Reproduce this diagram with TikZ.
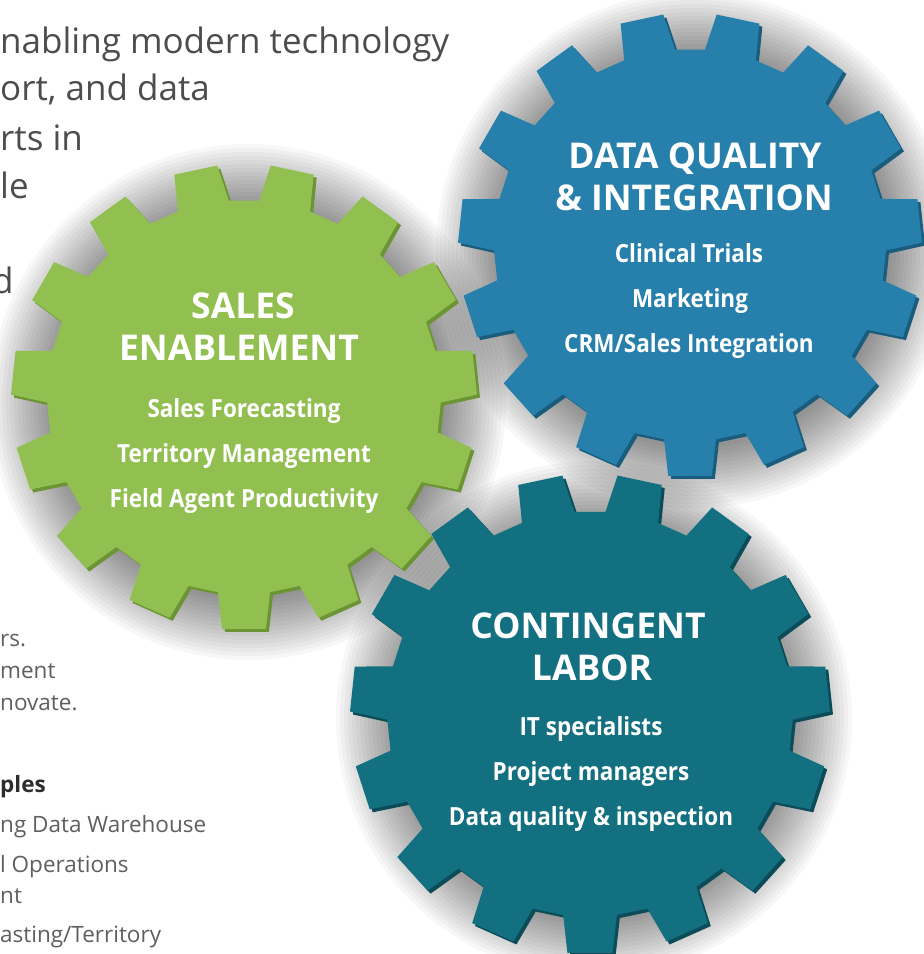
\documentclass[tikz,border=0pt]{standalone}
\usepackage{fontspec}
\setmainfont{Open Sans}
\newfontfamily\narrowfont[FakeStretch=0.9]{Open Sans}
\definecolor{ggreen}{RGB}{146,192,80}
\definecolor{ggreendk}{RGB}{108,148,52}
\definecolor{gblue}{RGB}{38,128,171}
\definecolor{gbluedk}{RGB}{26,92,124}
\definecolor{gteal}{RGB}{18,112,128}
\definecolor{gtealdk}{RGB}{11,76,88}
\definecolor{txtgray}{RGB}{77,77,79}
\definecolor{txtlight}{RGB}{95,95,97}
\definecolor{txtdark}{RGB}{45,45,47}
\newcommand{\cogshape}[1]{(82.4:{0.845*#1}) \foreach \k in {0,...,14}{ -- ({90+24*\k-7.6}:{0.845*#1}) -- ({90+24*\k-5.4}:{#1}) -- ({90+24*\k+5.4}:{#1}) -- ({90+24*\k+7.6}:{0.845*#1})} -- cycle}
\tikzset{
  gearhead/.style={text=white, font=\bfseries\fontsize{35.5}{40}\selectfont, anchor=base, inner sep=0pt},
  gearitem/.style={text=white, font=\narrowfont\bfseries\fontsize{25}{30}\selectfont, anchor=base, inner sep=0pt},
  bigtext/.style={text=txtgray, font=\fontsize{35}{40}\selectfont, anchor=base west, inner sep=0pt},
  smalltext/.style={text=txtlight, font=\fontsize{22.5}{26}\selectfont, anchor=base west, inner sep=0pt},
  boldtext/.style={text=txtdark, font=\bfseries\fontsize{22.5}{26}\selectfont, anchor=base west, inner sep=0pt},
  shadowring/.style={black, opacity=0.03}
}
\begin{document}
\begin{tikzpicture}[x=1pt,y=-1pt]
\useasboundingbox (0,0) rectangle (924,954);
\fill[white] (0,0) rectangle (924,954);
% soft shadows
\foreach \s [evaluate=\s as \rr using 198+4*\s] in {0,...,15}{
  \fill[shadowring] (248,402) circle[radius=\rr pt];
  \fill[shadowring] (694,250) circle[radius=\rr pt];
  \fill[shadowring] (594,719) circle[radius=\rr pt];
}
% background text (left column)
\node[bigtext] (t1) at (0,53) {nabling modern technology};
\node[bigtext] (t2) at (0,100) {ort, and data};
\node[bigtext] (t3) at (0,150) {rts in};
\node[bigtext] (t4) at (0,198) {le};
\node[bigtext] (t5) at (-8,293) {d};
\node[smalltext] (s1) at (0,646) {rs.};
\node[smalltext] (s2) at (0,678) {ment};
\node[smalltext] (s3) at (0,710) {novate.};
\node[boldtext] (s4) at (0,792) {ples};
\node[smalltext] (s5) at (0,832) {ng Data Warehouse};
\node[smalltext] (s6) at (0,872) {l Operations};
\node[smalltext] (s7) at (0,903) {nt};
\node[smalltext] (s8) at (0,942) {asting/Territory};
% blue gear
\fill[gbluedk, shift={(693,248)}] \cogshape{232};
\fill[gblue, shift={(690,245)}] \cogshape{232};
% green gear
\fill[ggreendk, shift={(247,400)}] \cogshape{233};
\fill[ggreen, shift={(244,397)}] \cogshape{233};
% teal gear
\fill[gtealdk, shift={(593,717)}] \cogshape{240};
\fill[gteal, shift={(590,714)}] \cogshape{240};
% green texts
\node[gearhead] (g1) at (243,318) {SALES};
\node[gearhead] (g2) at (239,360) {ENABLEMENT};
\node[gearitem] (g3) at (244,417) {Sales Forecasting};
\node[gearitem] (g4) at (244,462) {Territory Management};
\node[gearitem] (g5) at (244,507) {Field Agent Productivity};
% blue texts
\node[gearhead] (b1) at (695,168) {DATA QUALITY};
\node[gearhead] (b2) at (694,210) {\& INTEGRATION};
\node[gearitem] (b3) at (689,262) {Clinical Trials};
\node[gearitem] (b4) at (690,307) {Marketing};
\node[gearitem] (b5) at (689,352) {CRM/Sales Integration};
% teal texts
\node[gearhead] (c1) at (588,638) {CONTINGENT};
\node[gearhead] (c2) at (592,680) {LABOR};
\node[gearitem] (c3) at (591,735) {IT specialists};
\node[gearitem] (c4) at (591,780) {Project managers};
\node[gearitem] (c5) at (591,825) {Data quality \& inspection};
\end{tikzpicture}
\end{document}
